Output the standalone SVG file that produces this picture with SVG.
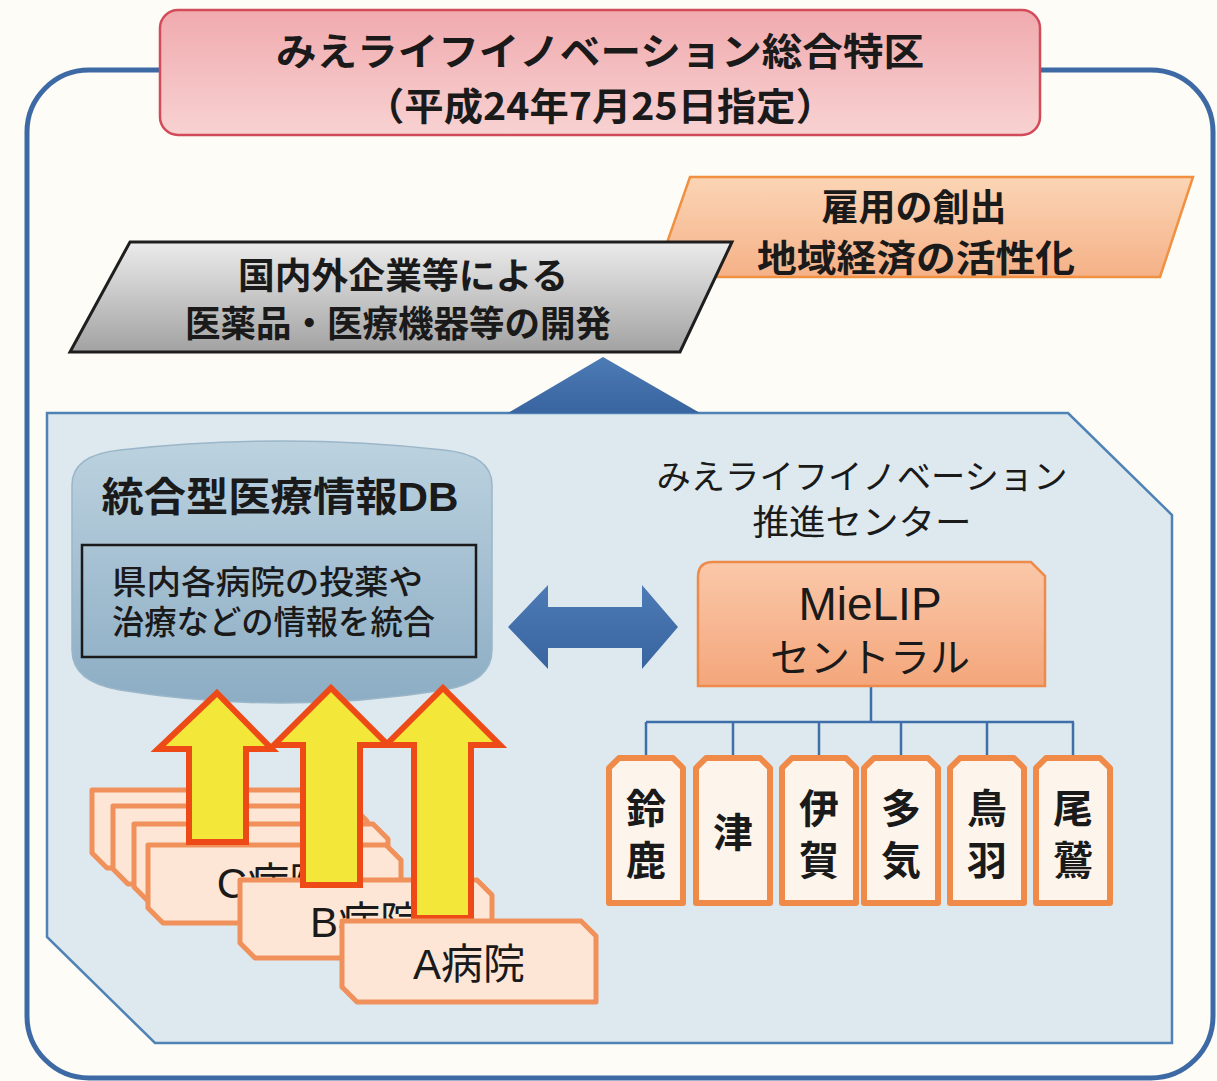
<svg xmlns="http://www.w3.org/2000/svg" width="1217" height="1081" viewBox="0 0 1217 1081">
<defs>
<linearGradient id="gTitle" x1="0" y1="0" x2="0" y2="1"><stop offset="0" stop-color="#f0aaae"/><stop offset="1" stop-color="#f8d2d2"/></linearGradient>
<linearGradient id="gOrange" x1="0" y1="0" x2="0" y2="1"><stop offset="0" stop-color="#fbd5b6"/><stop offset="1" stop-color="#f5b187"/></linearGradient>
<linearGradient id="gGray" x1="0" y1="0" x2="0" y2="1"><stop offset="0" stop-color="#ebebeb"/><stop offset="1" stop-color="#a2a2a2"/></linearGradient>
<linearGradient id="gDB" x1="0" y1="0" x2="0" y2="1"><stop offset="0" stop-color="#bcd2df"/><stop offset="1" stop-color="#8cadc4"/></linearGradient>
<linearGradient id="gMie" x1="0" y1="0" x2="0" y2="1"><stop offset="0" stop-color="#fac8a9"/><stop offset="1" stop-color="#f4a67b"/></linearGradient>
<linearGradient id="gBlue" x1="0" y1="0" x2="0" y2="1"><stop offset="0" stop-color="#4d7bb5"/><stop offset="1" stop-color="#38649f"/></linearGradient>
<style>
.jb{font-family:"Noto Sans CJK JP",sans-serif;font-weight:700;fill:#1a1a1a;text-anchor:middle;dominant-baseline:central}
.jm{font-family:"Liberation Sans","Noto Sans CJK JP",sans-serif;font-weight:400;fill:#1a1a1a;text-anchor:middle;dominant-baseline:central}
.jd{font-family:"Liberation Sans","Noto Sans CJK JP",sans-serif;font-weight:700;fill:#1a1a1a;text-anchor:middle;dominant-baseline:central}
.tt{font-family:"Noto Sans CJK JP",sans-serif;font-weight:700;font-size:40px;fill:#1a1a1a;text-anchor:middle;writing-mode:vertical-rl;letter-spacing:12px}
.tag{fill:#fdf4ec;stroke:#ef8a48;stroke-width:6;stroke-linejoin:round}
.card{fill:#fde6d6;stroke:#f0905a;stroke-width:5;stroke-linejoin:round}
.arw{fill:#f3e83a;stroke:#ee4a18;stroke-width:6;stroke-linejoin:miter}
.ln{fill:none;stroke:#3e6fa8;stroke-width:2.5}
</style>
</defs>
<rect width="1217" height="1081" fill="#fdfcf6"/>

<g id="frame">
<rect x="27" y="70" width="1186" height="1008" rx="62" fill="none" stroke="#3d6aa5" stroke-width="5"/>
</g>

<g id="title">
<rect x="160" y="10" width="880" height="125" rx="18" fill="url(#gTitle)" stroke="#d24b5a" stroke-width="2.5"/>
<text class="jb" x="600" y="48" font-size="38" textLength="648" lengthAdjust="spacingAndGlyphs">みえライフイノベーション総合特区</text>
<text class="jb" x="600" y="103" font-size="38" textLength="470" lengthAdjust="spacingAndGlyphs">（平成24年7月25日指定）</text>
</g>

<g id="outcome">
<polygon points="690,177 1193,177 1160,277 655,277" fill="url(#gOrange)" stroke="#f09040" stroke-width="2.5"/>
<text class="jb" x="914" y="205" font-size="37">雇用の創出</text>
<text class="jb" x="916" y="256" font-size="37" textLength="318" lengthAdjust="spacingAndGlyphs">地域経済の活性化</text>
</g>

<g id="development">
<polygon points="130,242 732,242 680,352 70,352" fill="url(#gGray)" stroke="#1e1e1e" stroke-width="3"/>
<text class="jb" x="403" y="273" font-size="36" textLength="330" lengthAdjust="spacingAndGlyphs">国内外企業等による</text>
<text class="jb" x="398" y="321" font-size="36" textLength="426" lengthAdjust="spacingAndGlyphs">医薬品・医療機器等の開発</text>
</g>

<g id="panel">
<polygon points="47,413 1068,413 1172,515 1172,1043 155,1043 47,937" fill="#dde9ef" stroke="#4f82b5" stroke-width="2.5"/>
</g>

<g id="connectors">
<polygon points="603,357 700,413 508,413" fill="url(#gBlue)"/>
<polygon points="508,627 548,585 548,607 642,607 642,585 678,627 642,669 642,648 548,648 548,669" fill="url(#gBlue)"/>
<path class="ln" d="M871,686 V722 M646,722 H1074 M646,722 V758 M733,722 V758 M819,722 V758 M901,722 V758 M987,722 V758 M1073,722 V758"/>
</g>

<g id="db">
<path d="M72,485 Q72,455 120,450 Q200,441 282,441 Q364,441 444,450 Q492,455 492,485 L492,650 Q492,682 444,690 Q364,703 282,703 Q200,703 120,690 Q72,682 72,650 Z" fill="url(#gDB)" stroke="#9bb6c8" stroke-width="1.5"/>
<text class="jd" x="280" y="497" font-size="40" textLength="357" lengthAdjust="spacingAndGlyphs">統合型医療情報DB</text>
<rect x="82" y="545" width="394" height="112" fill="none" stroke="#1a1a1a" stroke-width="2.5"/>
<text class="jm" x="112" y="582" font-size="33" style="text-anchor:start;font-weight:500" textLength="311" lengthAdjust="spacingAndGlyphs">県内各病院の投薬や</text>
<text class="jm" x="112" y="622" font-size="33" style="text-anchor:start;font-weight:500" textLength="323" lengthAdjust="spacingAndGlyphs">治療などの情報を統合</text>
</g>

<g id="center-label">
<text class="jm" x="862" y="477" font-size="34" textLength="411" lengthAdjust="spacingAndGlyphs">みえライフイノベーション</text>
<text class="jm" x="862" y="522" font-size="35" textLength="219" lengthAdjust="spacingAndGlyphs">推進センター</text>
</g>

<g id="mielip">
<path d="M713,562 H1031 L1045,576 V686 H698 V577 Q698,562 713,562 Z" fill="url(#gMie)" stroke="#ee8a4a" stroke-width="2.5"/>
<text class="jm" x="870" y="604" font-size="46">MieLIP</text>
<text class="jm" x="870" y="658" font-size="40">セントラル</text>
</g>

<g id="tag-suzuka"><path class="tag" d="M619,758 H673 L683,768 V903 H609 V768 Z"/><text class="tt" x="646" y="840">鈴鹿</text></g>
<g id="tag-tsu"><path class="tag" d="M706,758 H760 L770,768 V903 H696 V768 Z"/><text class="tt" x="733" y="832" style="letter-spacing:0">津</text></g>
<g id="tag-iga"><path class="tag" d="M792,758 H846 L856,768 V903 H782 V768 Z"/><text class="tt" x="819" y="840">伊賀</text></g>
<g id="tag-taki"><path class="tag" d="M874,758 H928 L938,768 V903 H864 V768 Z"/><text class="tt" x="901" y="840">多気</text></g>
<g id="tag-toba"><path class="tag" d="M960,758 H1014 L1024,768 V903 H950 V768 Z"/><text class="tt" x="987" y="840">鳥羽</text></g>
<g id="tag-owase"><path class="tag" d="M1046,758 H1100 L1110,768 V903 H1036 V768 Z"/><text class="tt" x="1073" y="840">尾鷲</text></g>

<g id="hospital-c">
<path class="card" d="M92,790 H331 L346,805 V868 H107 L92,853 Z"/>
<path class="card" d="M113,806 H352 L367,821 V884 H128 L113,869 Z"/>
<path class="card" d="M134,824 H373 L388,839 V902 H149 L134,887 Z"/>
<path class="card" d="M148,845 H386 L401,860 V923 H163 L148,908 Z"/>
<text class="jm" x="274" y="883" font-size="42">C病院</text>
</g>
<g id="arrow-c"><polygon class="arw" points="217,693 272,749 246,749 246,842 189,842 189,749 158,749"/></g>
<g id="hospital-b">
<path class="card" d="M240,880 H477 L492,895 V958 H255 L240,943 Z"/>
<text class="jm" x="366" y="922" font-size="42">B病院</text>
</g>
<g id="arrow-b"><polygon class="arw" points="331,688 388,745 360,745 360,885 303,885 303,745 274,745"/></g>
<g id="arrow-a"><polygon class="arw" points="443,688 500,745 471,745 471,918 414,918 414,745 386,745"/></g>
<g id="hospital-a">
<path class="card" d="M342,921 H581 L596,936 V1002 H357 L342,987 Z"/>
<text class="jm" x="469" y="964" font-size="42">A病院</text>
</g>
</svg>
